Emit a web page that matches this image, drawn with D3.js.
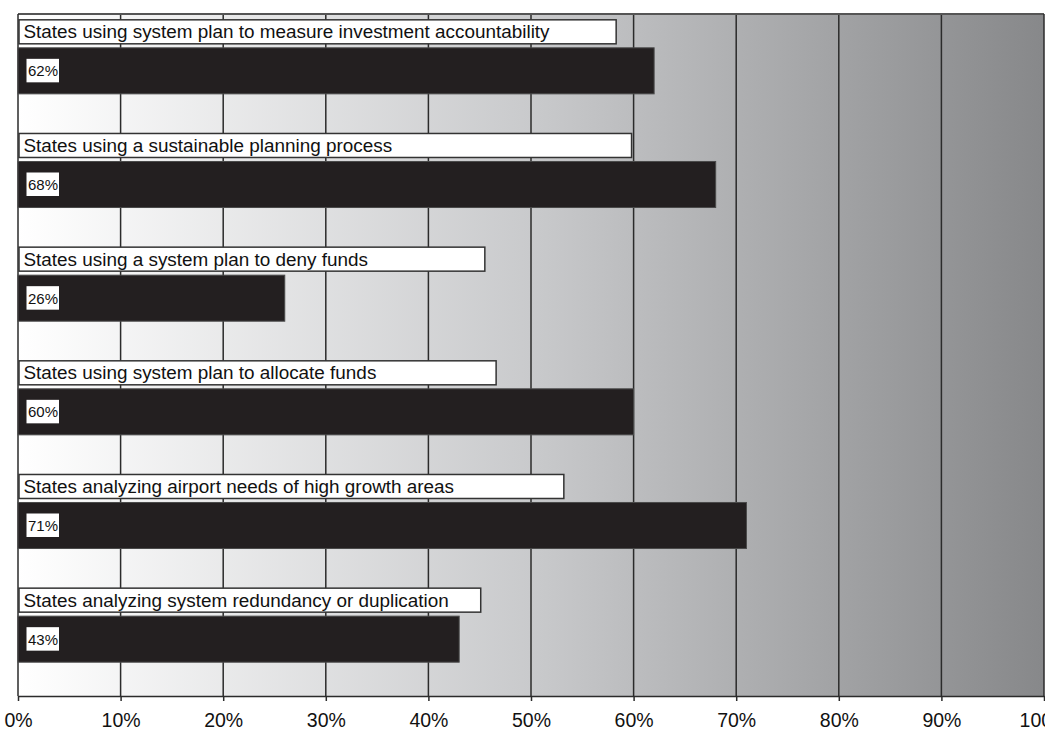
<!DOCTYPE html>
<html>
<head>
<meta charset="utf-8">
<script src="https://cdn.jsdelivr.net/npm/d3@7"></script>
<style>
  html, body { margin: 0; padding: 0; background: #ffffff; }
  svg { display: block; font-family: "Liberation Sans", Arial, Helvetica, sans-serif; }
</style>
</head>
<body>
<svg id="chart" width="1045" height="730"></svg>
<script>
// Share of states using each system-planning practice (percent)
const categories = [
  "States using system plan to measure investment accountability",
  "States using a sustainable planning process",
  "States using a system plan to deny funds",
  "States using system plan to allocate funds",
  "States analyzing airport needs of high growth areas",
  "States analyzing system redundancy or duplication"
];
const values = [62, 68, 26, 60, 71, 43];
// Right edge of each caption box, in axis percent
const captionEnds = [58.3, 59.8, 45.5, 46.6, 53.2, 45.1];
const tickValues = [0, 10, 20, 30, 40, 50, 60, 70, 80, 90, 100];

const svg = d3.select("#chart");
const plot = { left: 18, right: 1044, top: 14, bottom: 696 };

const x = d3.scaleLinear().domain([0, 100]).range([plot.left, plot.right]);
const y = d3.scaleBand()
  .domain(categories)
  .range([plot.top, plot.bottom])
  .paddingInner(0.595)
  .paddingOuter(0.2975);

// Background: white-to-grey horizontal gradient
const defs = svg.append("defs");
const grad = defs.append("linearGradient")
  .attr("id", "bg")
  .attr("x1", "0%").attr("x2", "100%").attr("y1", "0%").attr("y2", "0%");
grad.append("stop").attr("offset", "0%").attr("stop-color", "#ffffff");
grad.append("stop").attr("offset", "50%").attr("stop-color", "#c9cacc");
grad.append("stop").attr("offset", "100%").attr("stop-color", "#87888a");

svg.append("rect")
  .attr("x", plot.left).attr("y", plot.top)
  .attr("width", plot.right - plot.left)
  .attr("height", plot.bottom - plot.top)
  .attr("fill", "url(#bg)");

// Vertical gridlines
svg.append("g").selectAll("line")
  .data(tickValues.slice(1, -1))
  .join("line")
  .attr("x1", d => x(d)).attr("x2", d => x(d))
  .attr("y1", plot.top).attr("y2", plot.bottom)
  .attr("stroke", "#2b2b2b")
  .attr("stroke-width", 1.5);

// Frame: top, left and right edges
svg.append("line")
  .attr("x1", plot.left).attr("x2", plot.right)
  .attr("y1", plot.top).attr("y2", plot.top)
  .attr("stroke", "#555555").attr("stroke-width", 2);
svg.append("line")
  .attr("x1", plot.left).attr("x2", plot.left)
  .attr("y1", plot.top).attr("y2", plot.bottom)
  .attr("stroke", "#2b2b2b").attr("stroke-width", 1.5);
svg.append("line")
  .attr("x1", plot.right).attr("x2", plot.right)
  .attr("y1", plot.top).attr("y2", plot.bottom)
  .attr("stroke", "#2b2b2b").attr("stroke-width", 1.5);

// Bars
const rows = svg.append("g").selectAll("g")
  .data(categories.map((c, i) => ({ cat: c, value: values[i], end: captionEnds[i] })))
  .join("g");

rows.append("rect")
  .attr("x", x(0))
  .attr("y", d => y(d.cat))
  .attr("width", d => x(d.value) - x(0))
  .attr("height", y.bandwidth())
  .attr("fill", "#231f20")
  .attr("stroke", "#4a4a4a")
  .attr("stroke-width", 1);

// Value tags inside the bars
rows.append("rect")
  .attr("x", x(0) + 8.5)
  .attr("y", d => y(d.cat) + y.bandwidth() / 2 - 12)
  .attr("width", 32.5)
  .attr("height", 23.5)
  .attr("fill", "#ffffff");

rows.append("text")
  .attr("x", x(0) + 10)
  .attr("y", d => y(d.cat) + y.bandwidth() / 2 + 5.5)
  .attr("font-size", 15)
  .attr("fill", "#111111")
  .text(d => d.value + "%");

// Caption boxes above the bars
rows.append("rect")
  .attr("x", x(0) + 1)
  .attr("y", d => y(d.cat) - 28)
  .attr("width", d => x(d.end) - x(0) - 1)
  .attr("height", 24)
  .attr("fill", "#ffffff")
  .attr("stroke", "#333333")
  .attr("stroke-width", 1.5);

rows.append("text")
  .attr("x", x(0) + 5.5)
  .attr("y", d => y(d.cat) - 9.5)
  .attr("font-size", 18.9)
  .attr("fill", "#111111")
  .text(d => d.cat);

// Bottom axis
const axis = d3.axisBottom(x)
  .tickValues(tickValues)
  .tickFormat(d => d + "%")
  .tickSize(5)
  .tickSizeOuter(0)
  .tickPadding(12);

const gx = svg.append("g")
  .attr("transform", `translate(0,${plot.bottom})`)
  .call(axis);
gx.select(".domain").attr("stroke", "#2b2b2b").attr("stroke-width", 1.5);
gx.selectAll(".tick line").attr("stroke", "#2b2b2b").attr("stroke-width", 1.5);
gx.selectAll(".tick text")
  .attr("font-size", 19.5)
  .attr("font-family", "\"Liberation Sans\", Arial, Helvetica, sans-serif")
  .attr("fill", "#111111");
</script>
</body>
</html>
